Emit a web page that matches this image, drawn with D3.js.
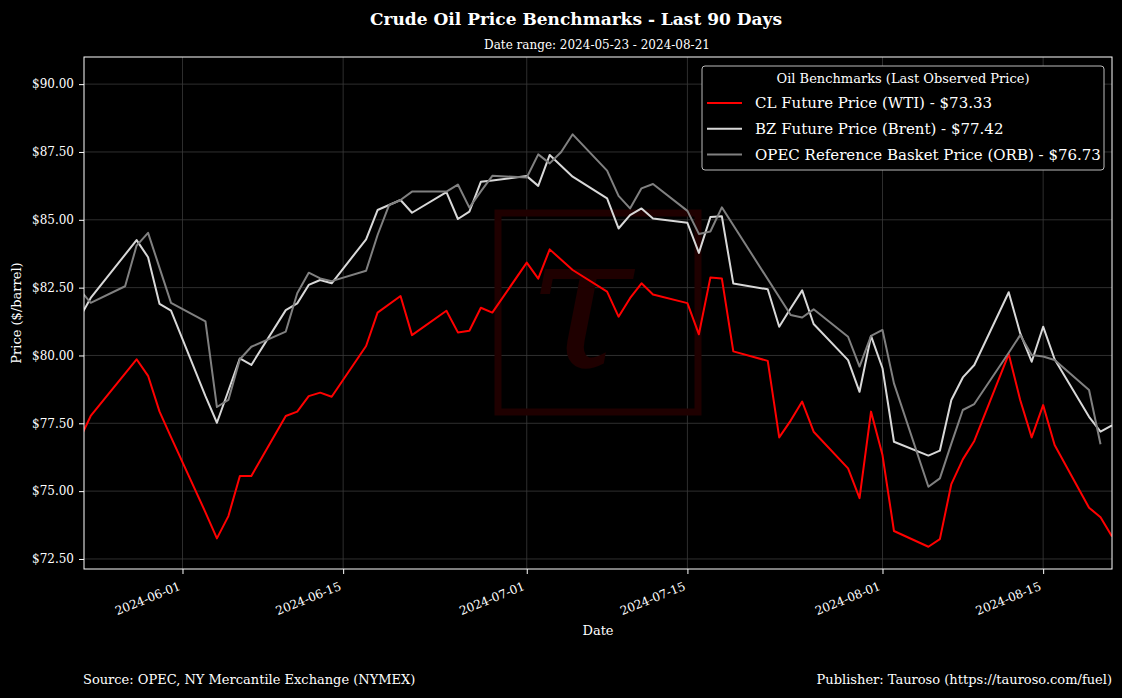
<!DOCTYPE html>
<html><head><meta charset="utf-8">
<script src="https://cdn.jsdelivr.net/npm/d3@7"></script>
<style>html,body{margin:0;padding:0;background:#000;} svg{display:block;}</style>
</head><body><svg id="chart" width="1122" height="698"></svg>
<script>
// ---- data ----
const tradeDates = ["2024-05-23","2024-05-24","2024-05-28","2024-05-29","2024-05-30","2024-05-31",
"2024-06-03","2024-06-04","2024-06-05","2024-06-06","2024-06-07",
"2024-06-10","2024-06-11","2024-06-12","2024-06-13","2024-06-14",
"2024-06-17","2024-06-18","2024-06-20","2024-06-21",
"2024-06-24","2024-06-25","2024-06-26","2024-06-27","2024-06-28",
"2024-07-01","2024-07-02","2024-07-03","2024-07-05",
"2024-07-08","2024-07-09","2024-07-10","2024-07-11","2024-07-12",
"2024-07-15","2024-07-16","2024-07-17","2024-07-18","2024-07-19",
"2024-07-22","2024-07-23","2024-07-24","2024-07-25","2024-07-26",
"2024-07-29","2024-07-30","2024-07-31",
"2024-08-01","2024-08-02",
"2024-08-05","2024-08-06","2024-08-07","2024-08-08","2024-08-09",
"2024-08-12","2024-08-13","2024-08-14","2024-08-15","2024-08-16",
"2024-08-19","2024-08-20","2024-08-21"];

const wtiPrices = [76.87,77.77,79.86,79.25,77.93,76.99,
74.22,73.26,74.08,75.56,75.56,
77.77,77.93,78.50,78.63,78.48,
80.35,81.58,82.19,80.75,
81.65,80.85,80.91,81.76,81.58,
83.42,82.83,83.91,83.15,
82.35,81.43,82.11,82.66,82.25,
81.93,80.78,82.87,82.84,80.15,
79.80,76.98,77.60,78.30,77.19,
75.84,74.74,77.93,
76.33,73.53,
72.95,73.23,75.26,76.17,76.85,
80.05,78.36,76.98,78.17,76.70,
74.39,74.04,73.33];

const brentPrices = [81.36,82.12,84.25,83.62,81.90,81.65,
78.50,77.52,78.70,79.89,79.65,
81.67,81.92,82.60,82.78,82.66,
84.28,85.36,85.73,85.26,
86.02,85.03,85.30,86.40,86.45,
86.61,86.25,87.39,86.59,
85.79,84.68,85.17,85.42,85.05,
84.89,83.78,85.10,85.13,82.65,
82.44,81.06,81.74,82.40,81.16,
79.83,78.66,80.72,
79.53,76.82,
76.31,76.49,78.36,79.19,79.65,
82.33,80.82,79.77,81.06,79.86,
77.74,77.19,77.42];

const orbDates = ["2024-05-23","2024-05-24","2024-05-27","2024-05-28","2024-05-29","2024-05-30","2024-05-31",
"2024-06-03","2024-06-04","2024-06-05","2024-06-06","2024-06-07",
"2024-06-10","2024-06-11","2024-06-12","2024-06-13","2024-06-14",
"2024-06-17","2024-06-18","2024-06-19","2024-06-20","2024-06-21",
"2024-06-24","2024-06-25","2024-06-26","2024-06-27","2024-06-28",
"2024-07-01","2024-07-02","2024-07-03","2024-07-04","2024-07-05",
"2024-07-08","2024-07-09","2024-07-10","2024-07-11","2024-07-12",
"2024-07-15","2024-07-16","2024-07-17","2024-07-18",
"2024-07-24","2024-07-25","2024-07-26",
"2024-07-29","2024-07-30","2024-07-31",
"2024-08-01","2024-08-02",
"2024-08-05","2024-08-06","2024-08-07","2024-08-08","2024-08-09",
"2024-08-12","2024-08-13","2024-08-14","2024-08-15","2024-08-16",
"2024-08-19","2024-08-20"];

const orbPrices = [82.45,81.94,82.55,84.05,84.52,83.23,81.94,
81.26,78.10,78.36,79.86,80.32,
80.88,82.29,83.05,82.84,82.74,
83.12,84.44,85.54,85.73,86.04,
86.04,86.30,85.45,86.05,86.62,
86.56,87.41,87.08,87.50,88.15,
86.81,85.88,85.42,86.16,86.32,
85.33,84.48,84.57,85.46,
81.49,81.40,81.70,
80.69,79.59,80.72,
80.94,78.97,
75.16,75.47,76.75,77.99,78.21,
80.10,80.75,80.02,79.96,79.83,
78.73,76.73];

const seriesNames = ["CL Future Price (WTI)", "BZ Future Price (Brent)", "OPEC Reference Basket Price (ORB)"];
const seriesColors = ["#ff0000", "#d8d8d8", "#808080"];
const xTickDates = ["2024-06-01","2024-06-15","2024-07-01","2024-07-15","2024-08-01","2024-08-15"];
const yTickValues = [72.5, 75, 77.5, 80, 82.5, 85, 87.5, 90];
const xDomain = ["2024-05-23T10:00:00Z", "2024-08-21T00:00:00Z"];
const yDomain = [72.13, 91.0];

const titleText = "Crude Oil Price Benchmarks - Last 90 Days";
const subtitleText = "Date range: 2024-05-23 - 2024-08-21";
const legendTitle = "Oil Benchmarks (Last Observed Price)";
const sourceText = "Source: OPEC, NY Mercantile Exchange (NYMEX)";
const publisherText = "Publisher: Tauroso (https://tauroso.com/fuel)";

// ---- layout ----
const W = 1122, H = 698;
const M = {left: 84, right: 10, top: 57, bottom: 129};
const pw = W - M.left - M.right, ph = H - M.top - M.bottom;
const FONT = "'DejaVu Serif', serif";

const svg = d3.select("#chart").style("font-family", FONT);
svg.append("rect").attr("width", W).attr("height", H).attr("fill", "#000");

const parse = d3.utcParse("%Y-%m-%d");
const x = d3.scaleUtc().domain(xDomain.map(d => new Date(d))).range([M.left, M.left + pw]);
const y = d3.scaleLinear().domain(yDomain).range([M.top + ph, M.top]);

const series = [
  {name: seriesNames[0], color: seriesColors[0], pts: tradeDates.map((d, i) => ({d: parse(d), v: wtiPrices[i]}))},
  {name: seriesNames[1], color: seriesColors[1], pts: tradeDates.map((d, i) => ({d: parse(d), v: brentPrices[i]}))},
  {name: seriesNames[2], color: seriesColors[2], pts: orbDates.map((d, i) => ({d: parse(d), v: orbPrices[i]}))}
];

svg.append("defs").append("clipPath").attr("id", "clip")
  .append("rect").attr("x", M.left).attr("y", M.top).attr("width", pw).attr("height", ph);

// grid
const xt = xTickDates.map(parse);
svg.append("g").selectAll("line").data(xt).join("line")
  .attr("x1", d => x(d)).attr("x2", d => x(d)).attr("y1", M.top).attr("y2", M.top + ph)
  .attr("stroke", "#3a3a3a").attr("stroke-width", 0.8);
svg.append("g").selectAll("line").data(yTickValues).join("line")
  .attr("y1", d => y(d)).attr("y2", d => y(d)).attr("x1", M.left).attr("x2", M.left + pw)
  .attr("stroke", "#3a3a3a").attr("stroke-width", 0.8);

// watermark
const cx = M.left + pw / 2, cy = M.top + ph / 2;
const wm = svg.append("g").attr("clip-path", "url(#clip)");
wm.append("rect").attr("x", cx - 100).attr("y", cy - 100).attr("width", 200).attr("height", 199)
  .attr("fill", "none").attr("stroke", "#1f0000").attr("stroke-width", 7);
wm.append("text").attr("x", cx - 18).attr("y", cy + 54).attr("text-anchor", "middle")
  .attr("font-size", 190).attr("font-style", "italic").attr("fill", "#1f0000").text("τ");

// lines
const line = d3.line().x(p => x(p.d)).y(p => y(p.v));
svg.append("g").attr("clip-path", "url(#clip)").selectAll("path").data(series).join("path")
  .attr("d", s => line(s.pts)).attr("fill", "none").attr("stroke", s => s.color)
  .attr("stroke-width", 2).attr("stroke-linejoin", "round");

// frame
svg.append("rect").attr("x", M.left).attr("y", M.top).attr("width", pw).attr("height", ph)
  .attr("fill", "none").attr("stroke", "#fff").attr("stroke-width", 1);

// axes
const yAxis = svg.append("g").attr("transform", `translate(${M.left},0)`)
  .call(d3.axisLeft(y).tickValues(yTickValues).tickFormat(v => "$" + v.toFixed(2)).tickSize(5).tickPadding(5));
yAxis.select(".domain").remove();
yAxis.selectAll("line").attr("stroke", "#fff");
yAxis.selectAll("text").attr("fill", "#fff").attr("font-size", 12).attr("font-family", FONT);

const xAxis = svg.append("g").attr("transform", `translate(0,${M.top + ph})`)
  .call(d3.axisBottom(x).tickValues(xt).tickFormat(d3.utcFormat("%Y-%m-%d")).tickSize(5).tickPadding(5));
xAxis.select(".domain").remove();
xAxis.selectAll("line").attr("stroke", "#fff");
xAxis.selectAll("text").attr("fill", "#fff").attr("font-size", 12).attr("font-family", FONT)
  .attr("text-anchor", "end").attr("y", 0).attr("dy", "0.75em")
  .attr("transform", "translate(-5,12) rotate(-22)");

// axis labels
svg.append("text").attr("x", M.left + pw / 2).attr("y", 635).attr("text-anchor", "middle")
  .attr("fill", "#fff").attr("font-size", 13).text("Date");
svg.append("text").attr("transform", `translate(21,${M.top + ph / 2}) rotate(-90)`).attr("text-anchor", "middle")
  .attr("fill", "#fff").attr("font-size", 13).text("Price ($/barrel)");

// titles
svg.append("text").attr("x", 576).attr("y", 25).attr("text-anchor", "middle").attr("fill", "#fff")
  .attr("font-size", 17).attr("font-weight", "bold").text(titleText);
svg.append("text").attr("x", 597).attr("y", 49).attr("text-anchor", "middle").attr("fill", "#fff")
  .attr("font-size", 12).text(subtitleText);

// footer
svg.append("text").attr("x", 83).attr("y", 684).attr("fill", "#fff").attr("font-size", 13).text(sourceText);
svg.append("text").attr("x", 1112).attr("y", 684).attr("text-anchor", "end").attr("fill", "#fff").attr("font-size", 13).text(publisherText);

// legend
const lg = svg.append("g");
lg.append("rect").attr("x", 702).attr("y", 66).attr("width", 402).attr("height", 104).attr("rx", 3)
  .attr("fill", "#000").attr("stroke", "#bbb").attr("stroke-width", 1);
lg.append("text").attr("x", 903).attr("y", 83).attr("text-anchor", "middle").attr("fill", "#fff")
  .attr("font-size", 13).text(legendTitle);
const items = lg.selectAll("g.item").data(series).join("g").attr("class", "item")
  .attr("transform", (s, i) => `translate(707,${103 + i * 25.7})`);
items.append("line").attr("x1", 0).attr("x2", 35).attr("stroke", s => s.color).attr("stroke-width", 2);
items.append("text").attr("x", 48).attr("dy", "0.36em").attr("fill", "#fff").attr("font-size", 15)
  .text(s => `${s.name} - $${s.pts[s.pts.length - 1].v.toFixed(2)}`);
</script></body></html>
